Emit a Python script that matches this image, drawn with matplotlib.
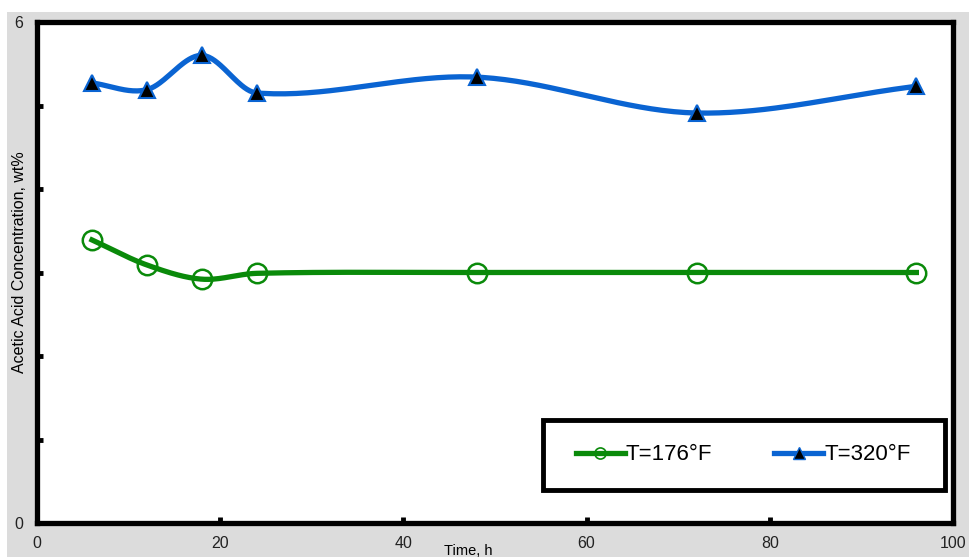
import matplotlib.pyplot as plt
import matplotlib.patches as mpatches
import numpy as np

plt.rcParams['font.family'] = ['Liberation Sans', 'DejaVu Sans']

# Datos
tiempo = [6, 12, 18, 24, 48, 72, 96]
conc_176 = [3.39, 3.09, 2.92, 2.99, 3.0, 3.0, 3.0]
conc_320 = [5.27, 5.19, 5.60, 5.15, 5.34, 4.91, 5.23]
xticks = [0, 20, 40, 60, 80, 100]


def suavizar(x, y, n=40):
    # linea suavizada (Hermite cubica) que pasa por los puntos, solo para dibujar
    x = np.asarray(x, float)
    y = np.asarray(y, float)
    m = np.zeros_like(y)
    m[1:-1] = (y[2:] - y[:-2]) / (x[2:] - x[:-2])
    m[0] = (y[1] - y[0]) / (x[1] - x[0])
    m[-1] = (y[-1] - y[-2]) / (x[-1] - x[-2])
    xs, ys = [], []
    t = np.linspace(0, 1, n)
    for i in range(len(x) - 1):
        h = x[i + 1] - x[i]
        h00 = 2 * t**3 - 3 * t**2 + 1
        h10 = t**3 - 2 * t**2 + t
        h01 = -2 * t**3 + 3 * t**2
        h11 = t**3 - t**2
        xs.extend(x[i] + t * h)
        ys.extend(h00 * y[i] + h10 * h * m[i] + h01 * y[i + 1] + h11 * h * m[i + 1])
    return np.array(xs), np.array(ys)


fig = plt.figure(figsize=(9.69, 5.57), dpi=100, facecolor='white')
fig.patches.append(mpatches.Rectangle((7 / 969, 0), 1, 1 - 12 / 557, transform=fig.transFigure,
                                      facecolor='#dcdcdc', edgecolor='none', zorder=-10))
ax = fig.add_axes([37 / 969, 34 / 557, 916 / 969, 501 / 557])

verde = '#0a8a0a'
azul = '#0a64d2'

sx, sy = suavizar(tiempo, conc_176)
ax.plot(sx, sy, color=verde, lw=3.8, zorder=3)
ax.plot(tiempo, conc_176, 'o', ms=14, mfc='none', mec=verde, mew=1.8, zorder=4)

sx, sy = suavizar(tiempo, conc_320)
ax.plot(sx, sy, color=azul, lw=3.8, zorder=3)
ax.plot(tiempo, conc_320, '^', ms=12, mfc='black', mec=azul, mew=1.5, zorder=4)

ax.set_xlim(0, 100)
ax.set_ylim(0, 6)
ax.set_xticks(xticks)
ax.set_xticklabels([str(v) for v in xticks])
ax.set_yticks([0, 1, 2, 3, 4, 5, 6])
ax.set_yticklabels(['0', '', '', '', '', '', '6'])
ax.tick_params(direction='in', length=4, width=3.5, labelsize=11.5, colors='black',
               labelcolor='#222222')
ax.tick_params(axis='x', pad=9)
ax.tick_params(axis='y', pad=10)
for s in ax.spines.values():
    s.set_linewidth(3.8)

ax.set_xlabel('Time, h', fontsize=10.5)
ax.xaxis.set_label_coords(0.471, -0.042)
ax.set_ylabel('Acetic Acid Concentration, wt%', fontsize=11.5)
ax.yaxis.set_label_coords(-0.011, 0.52)

# leyenda con marco grueso
h1, = ax.plot([], [], color=verde, lw=3.8, marker='o', ms=8, mfc='none', mec=verde, mew=1.2)
h2, = ax.plot([], [], color=azul, lw=3.8, marker='^', ms=8, mfc='black', mec=azul, mew=1)
ax.add_patch(mpatches.Rectangle((0.552, 0.066), 0.439, 0.14, transform=ax.transAxes,
                                facecolor='white', edgecolor='black', lw=3.5, zorder=5))
leg = ax.legend([h1, h2], ['T=176°F', 'T=320°F'], ncol=2, frameon=False, fontsize=16,
                loc='center', bbox_to_anchor=(0.771, 0.136), handlelength=2.2,
                handletextpad=0.05, columnspacing=2.8)
leg.set_zorder(6)

fig.savefig('out.png', dpi=100)
